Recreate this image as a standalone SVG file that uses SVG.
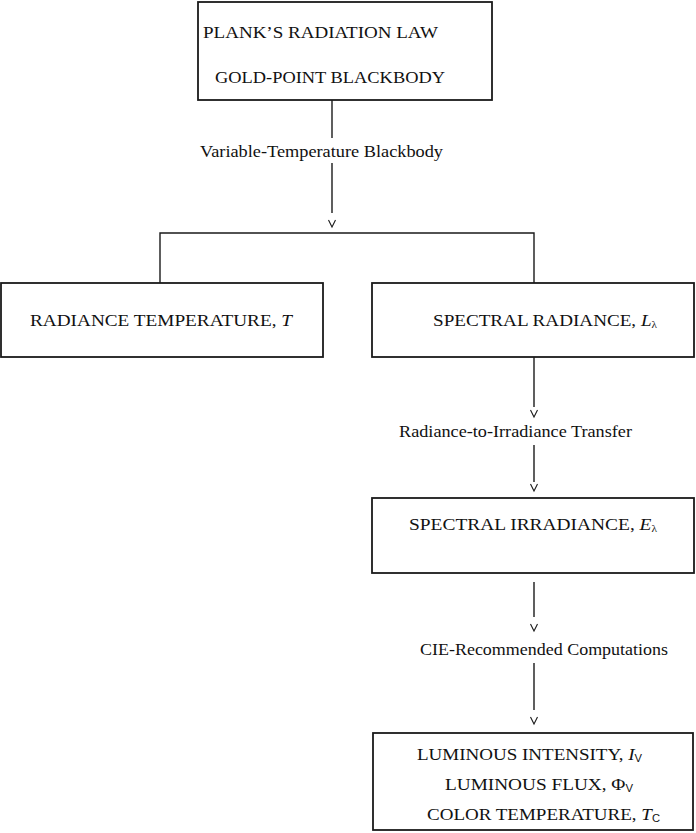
<svg xmlns="http://www.w3.org/2000/svg" width="696" height="833" viewBox="0 0 696 833">
<style>
.box{fill:#fff;stroke:#1a1a1a;stroke-width:1.8}
.ln{fill:none;stroke:#1a1a1a;stroke-width:1.4}
.v{fill:none;stroke:#1a1a1a;stroke-width:1.1}
.t{font-family:"Liberation Serif","Times New Roman",serif;font-size:17px;fill:#111}
.s{font-family:"Liberation Sans",Arial,sans-serif;font-size:10px}
.i{font-style:italic}
</style>
<rect width="696" height="833" fill="#fff"/>
<g id="connectors">
<line class="ln" x1="332" y1="100" x2="332" y2="138"/>
<line class="ln" x1="332" y1="163" x2="332" y2="213"/>
<path class="v" d="M328.5,220 L332,227 L335.5,220"/>
<polyline class="ln" points="160,283 160,233 534,233 534,283"/>
<line class="ln" x1="534" y1="357" x2="534" y2="407"/>
<path class="v" d="M530.5,410 L534,417 L537.5,410"/>
<line class="ln" x1="534" y1="445" x2="534" y2="482"/>
<path class="v" d="M530.5,484 L534,491 L537.5,484"/>
<line class="ln" x1="534" y1="582" x2="534" y2="617"/>
<path class="v" d="M530.5,624 L534,631 L537.5,624"/>
<line class="ln" x1="534" y1="663" x2="534" y2="710"/>
<path class="v" d="M530.5,717 L534,724 L537.5,717"/>
<text class="t" x="200" y="157" textLength="243" lengthAdjust="spacingAndGlyphs">Variable-Temperature Blackbody</text>
<text class="t" x="399" y="437" textLength="233" lengthAdjust="spacingAndGlyphs">Radiance-to-Irradiance Transfer</text>
<text class="t" x="420" y="655" textLength="248" lengthAdjust="spacingAndGlyphs">CIE-Recommended Computations</text>
</g>
<g id="planck">
<rect class="box" x="198" y="2" width="294" height="98"/>
<text class="t" x="203" y="38" textLength="235" lengthAdjust="spacingAndGlyphs">PLANK’S RADIATION LAW</text>
<text class="t" x="215" y="83" textLength="230" lengthAdjust="spacingAndGlyphs">GOLD-POINT BLACKBODY</text>
</g>
<g id="radiance-temperature">
<rect class="box" x="1" y="283" width="322" height="74"/>
<text class="t" x="30" y="326" textLength="262" lengthAdjust="spacingAndGlyphs">RADIANCE TEMPERATURE, <tspan class="i">T</tspan></text>
</g>
<g id="spectral-radiance">
<rect class="box" x="372" y="283" width="322" height="74"/>
<text class="t" x="433" y="326" textLength="224" lengthAdjust="spacingAndGlyphs">SPECTRAL RADIANCE, <tspan class="i">L</tspan><tspan font-size="10" dy="2">λ</tspan></text>
</g>
<g id="spectral-irradiance">
<rect class="box" x="372" y="498" width="322" height="75"/>
<text class="t" x="409" y="530" textLength="248" lengthAdjust="spacingAndGlyphs">SPECTRAL IRRADIANCE, <tspan class="i">E</tspan><tspan font-size="10" dy="2">λ</tspan></text>
</g>
<g id="photometric">
<rect class="box" x="373" y="733" width="320" height="97"/>
<text class="t" x="417" y="760" textLength="225" lengthAdjust="spacingAndGlyphs">LUMINOUS INTENSITY, <tspan class="i">I</tspan><tspan class="s" dy="2">V</tspan></text>
<text class="t" x="445" y="790" textLength="188" lengthAdjust="spacingAndGlyphs">LUMINOUS FLUX, Φ<tspan class="s" dy="2">V</tspan></text>
<text class="t" x="427" y="820" textLength="233" lengthAdjust="spacingAndGlyphs">COLOR TEMPERATURE, <tspan class="i">T</tspan><tspan class="s" dy="2">C</tspan></text>
</g>
</svg>
